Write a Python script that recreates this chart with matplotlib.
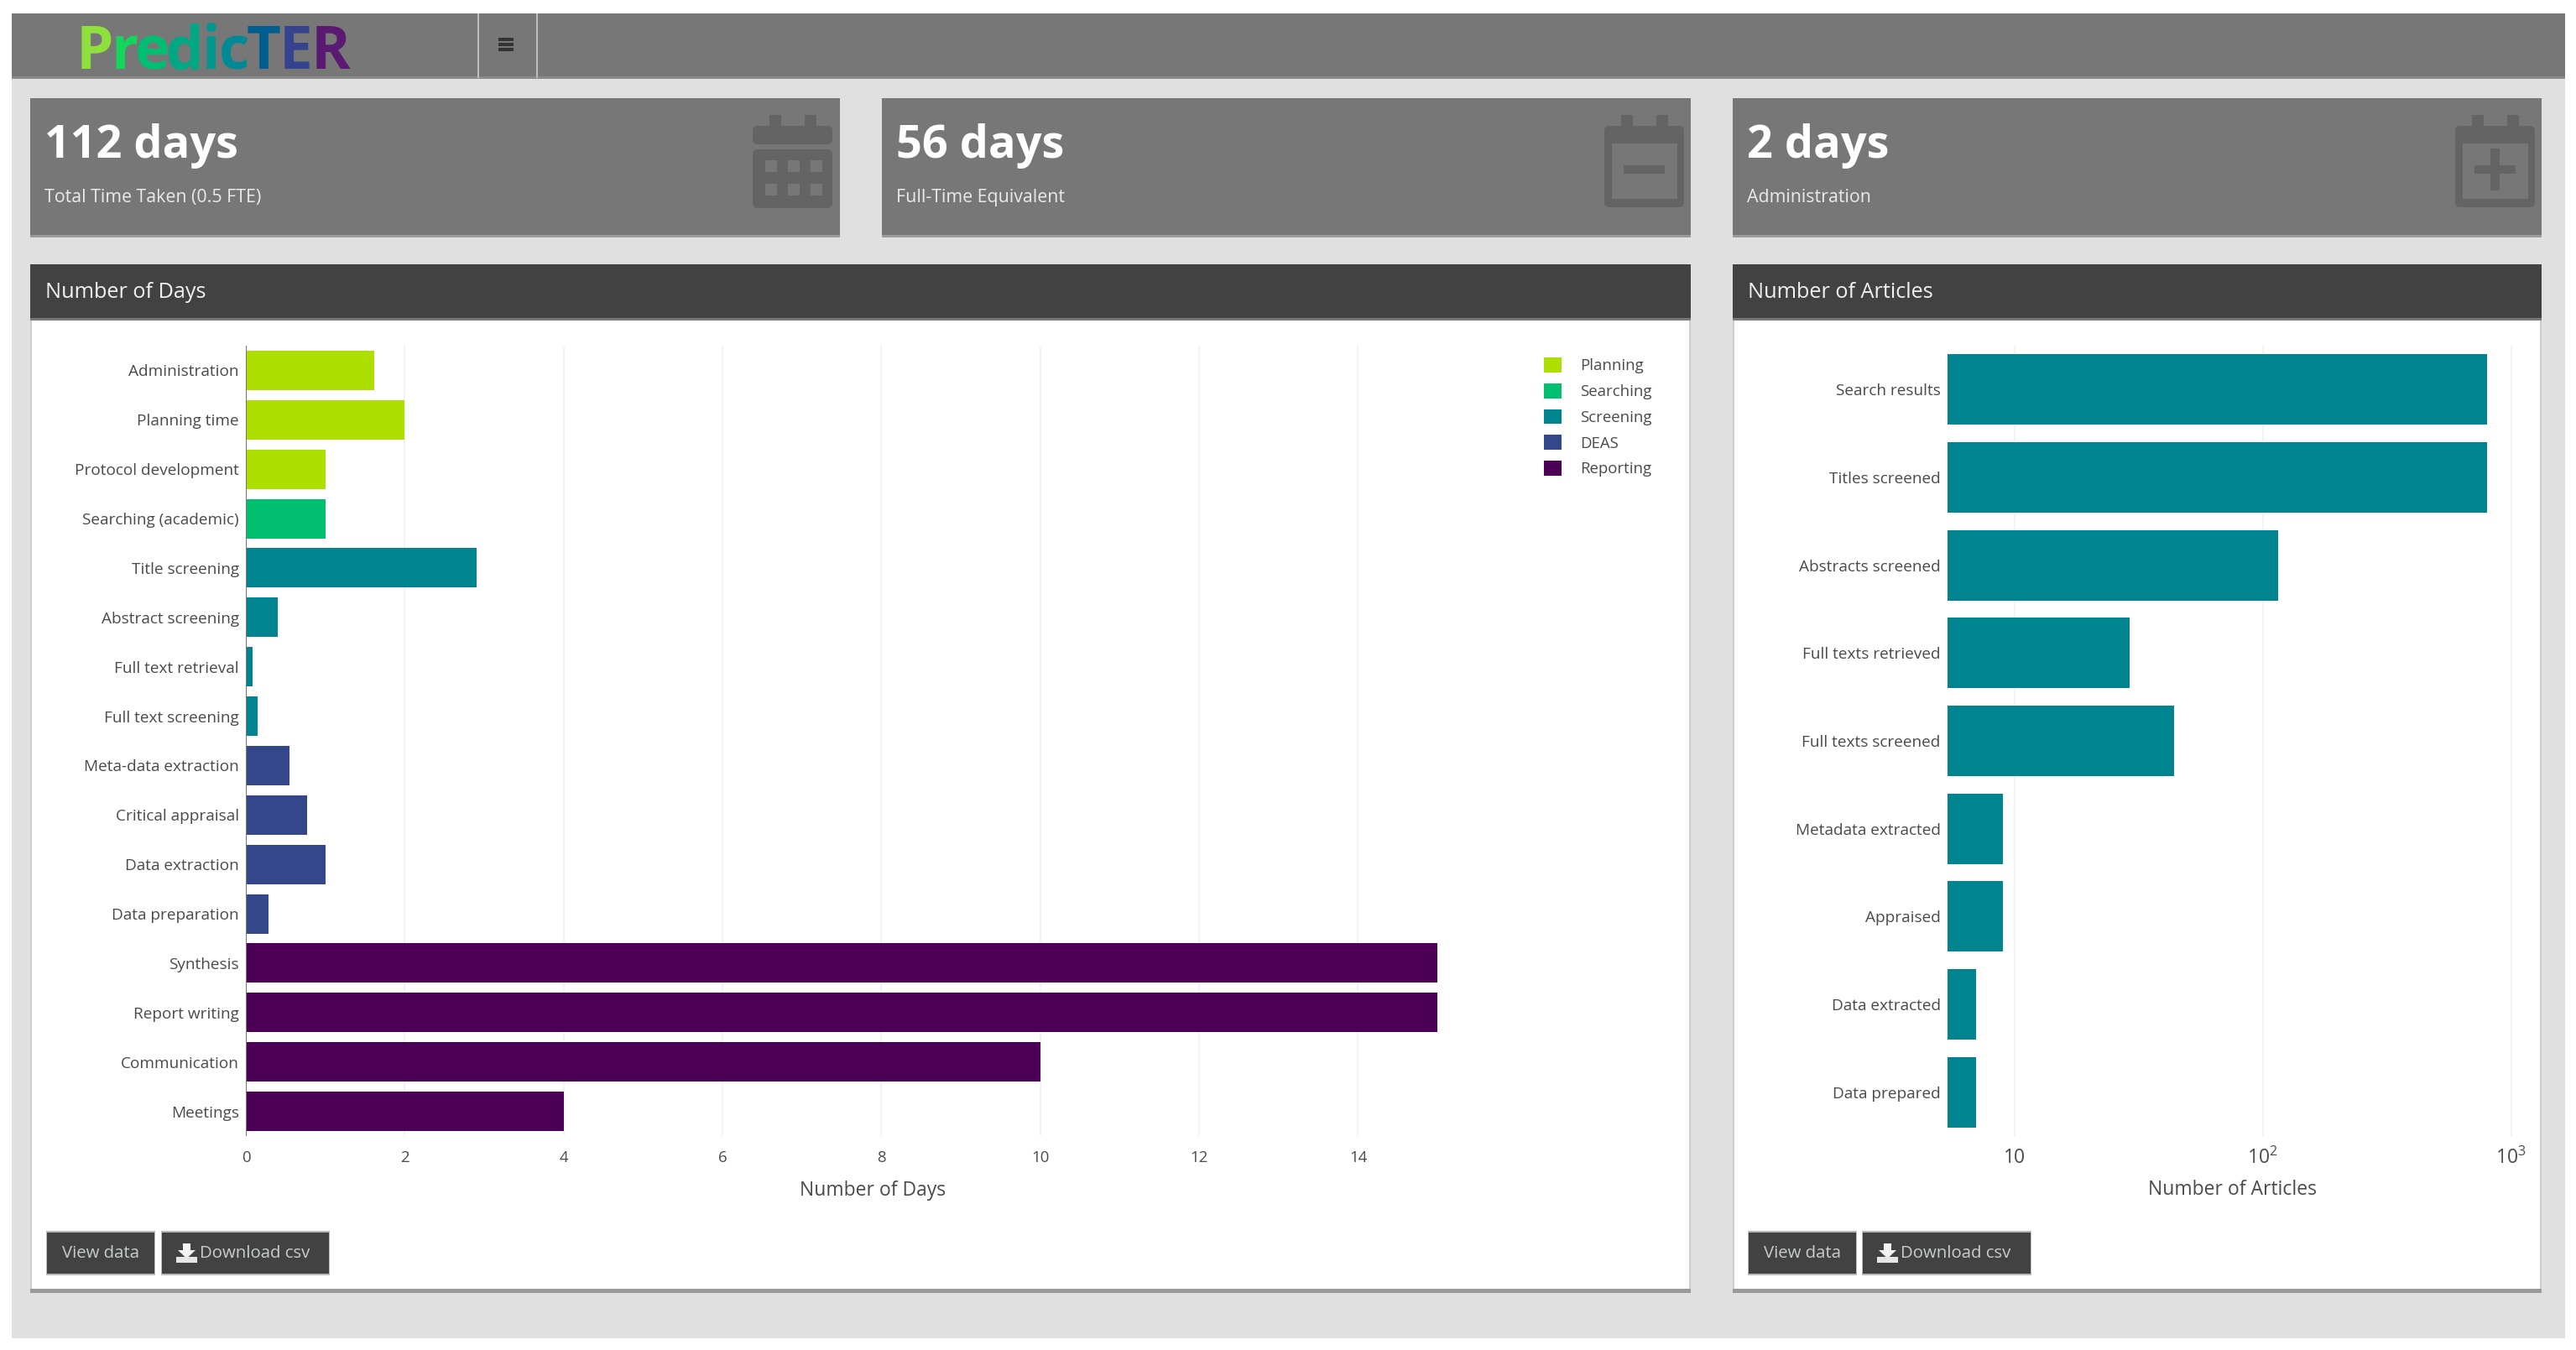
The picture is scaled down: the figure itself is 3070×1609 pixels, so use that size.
import matplotlib
matplotlib.use("Agg")
import matplotlib.pyplot as plt
from matplotlib.patches import Rectangle, FancyBboxPatch, Patch, Polygon

plt.rcParams['font.family'] = ['Open Sans', 'DejaVu Sans']
plt.rcParams['mathtext.fontset'] = 'custom'
plt.rcParams['mathtext.rm'] = 'Open Sans'
plt.rcParams['mathtext.default'] = 'regular'

W = 3070
H = 1609

# number of days chart
day_labels = ["Administration", "Planning time", "Protocol development", "Searching (academic)",
              "Title screening", "Abstract screening", "Full text retrieval", "Full text screening",
              "Meta-data extraction", "Critical appraisal", "Data extraction", "Data preparation",
              "Synthesis", "Report writing", "Communication", "Meetings"]
day_values = [1.62, 2, 1, 1, 2.9, 0.4, 0.08, 0.15, 0.55, 0.77, 1, 0.28, 15, 15, 10, 4]
day_phases = ["Planning", "Planning", "Planning", "Searching", "Screening", "Screening", "Screening",
              "Screening", "DEAS", "DEAS", "DEAS", "DEAS", "Reporting", "Reporting", "Reporting", "Reporting"]
day_ticks = [0, 2, 4, 6, 8, 10, 12, 14]

# number of articles chart
article_labels = ["Search results", "Titles screened", "Abstracts screened", "Full texts retrieved",
                  "Full texts screened", "Metadata extracted", "Appraised", "Data extracted", "Data prepared"]
article_values = [798, 798, 115, 29, 44, 9, 9, 7, 7]
article_ticks = [10, 100, 1000]
article_tick_labels = ["10", "$10^{2}$", "$10^{3}$"]

phases = ["Planning", "Searching", "Screening", "DEAS", "Reporting"]
phase_colors = ["#ADE000", "#00C070", "#008490", "#34478A", "#4B0055"]
color_of = dict(zip(phases, phase_colors))

card_titles = ["112 days", "56 days", "2 days"]
card_subs = ["Total Time Taken (0.5 FTE)", "Full-Time Equivalent", "Administration"]

logo_letters = list("PredicTER")
logo_colors = ["#8FE03C", "#14D65A", "#00BE72", "#00A884", "#00988E", "#008A96", "#005F8E", "#35428E", "#5A1A72"]
logo_pos = [91, 133, 161, 198, 241, 261, 294, 333, 371]

GREY = "#777777"
DARK = "#424242"
ICON = "#646464"
PAGE = "#E0E0E0"
TEXT = "#4A4A4A"

fig = plt.figure(figsize=(W / 100, H / 100), dpi=100, facecolor="white")

# page furniture lives in an axes measured in pixels
page = fig.add_axes([0, 0, 1, 1], zorder=0)
page.set_xlim(0, W)
page.set_ylim(H, 0)
page.axis("off")


def box(x0, y0, x1, y1, color, **kw):
    page.add_patch(Rectangle((x0, y0), x1 - x0, y1 - y0, facecolor=color, edgecolor="none", **kw))


def rounded(x0, y0, x1, y1, color, r=6):
    page.add_patch(FancyBboxPatch((x0 + r, y0 + r), x1 - x0 - 2 * r, y1 - y0 - 2 * r,
                                  boxstyle="round,pad=%d,rounding_size=%d" % (r, r),
                                  facecolor=color, edgecolor="none"))


def calendar(dx, kind):
    box(dx + 917, 137, dx + 931, 155, ICON)
    box(dx + 959, 137, dx + 973, 155, ICON)
    if kind == "grid":
        rounded(dx + 897, 150, dx + 992, 172, ICON)
        rounded(dx + 897, 178, dx + 992, 248, ICON)
        for cx in (919, 946, 973):
            for cy in (198, 226):
                box(dx + cx - 7, cy - 7, dx + cx + 7, cy + 7, GREY)
        return
    rounded(dx + 897, 150, dx + 992, 247, ICON)
    box(dx + 906, 171, dx + 984, 237, GREY)
    box(dx + 920, 197, dx + 969, 207, ICON)
    if kind == "plus":
        box(dx + 939, 177, dx + 950, 227, ICON)


def download_glyph(x, y):
    # arrow over a tray, the button icon has no font glyph here
    page.add_patch(Polygon([(x + 8, y), (x + 17, y), (x + 17, y + 8), (x + 23, y + 8), (x + 12.5, y + 18),
                            (x + 2, y + 8), (x + 8, y + 8)], facecolor="#F4F4F4", edgecolor="none"))
    box(x, y + 16, x + 25, y + 23, "#E6E6E6")


box(14, 16, 3057, 1595, PAGE)

# top bar
box(14, 16, 3057, 93, GREY)
box(14, 91, 3057, 94, "#8A8A8A")
box(569, 16, 571, 93, "#BDBDBD")
box(639, 16, 641, 93, "#BDBDBD")
for hy in (45, 51, 57):
    box(594, hy, 612, hy + 4, "#333333")

# logo, one colour per letter
for letter, col, lx in zip(logo_letters, logo_colors, logo_pos):
    page.text(lx, 82, letter, color=col, fontsize=51, fontweight="bold", ha="left", va="baseline")

# value cards
card_x = [36, 1051, 2065]
card_r = [1001, 2015, 3029]
icons = ["grid", "minus", "plus"]
for i in range(3):
    box(card_x[i], 117, card_r[i], 282, GREY)
    box(card_x[i], 280, card_r[i], 283, "#9A9A9A")
    page.text(card_x[i] + 17, 188, card_titles[i], color="white", fontsize=39, fontweight="bold", va="baseline")
    page.text(card_x[i] + 17, 241, card_subs[i], color="#EAEAEA", fontsize=15.4, va="baseline")
    calendar(card_x[i] - 36, icons[i])

# panels
panel_x = [36, 2065]
panel_r = [2015, 3029]
panel_titles = ["Number of Days", "Number of Articles"]
buttons = [[(56, 184), (193, 392)], [(2084, 2212), (2220, 2420)]]
for i in range(2):
    box(panel_x[i], 381, panel_r[i], 1537, "#CCCCCC")
    box(panel_x[i], 1536, panel_r[i], 1541, "#9A9A9A")
    box(panel_x[i] + 2, 381, panel_r[i] - 2, 1536, "white")
    box(panel_x[i], 315, panel_r[i], 381, DARK)
    box(panel_x[i], 379, panel_r[i], 382, "#777777")
    page.text(panel_x[i] + 18, 348, panel_titles[i], color="#F0F0F0", fontsize=18.2, va="center")
    (v0, v1), (d0, d1) = buttons[i]
    box(v0 - 1, 1467, v1 + 1, 1520, "#BBBBBB")
    box(d0 - 1, 1467, d1 + 1, 1520, "#BBBBBB")
    box(v0, 1469, v1, 1518, DARK)
    box(d0, 1469, d1, 1518, DARK)
    page.text((v0 + v1) / 2, 1494, "View data", color="#C8CCCC", fontsize=14.7, ha="center", va="center")
    page.text(d0 + 45, 1494, "Download csv", color="#C8CCCC", fontsize=14.7, ha="left", va="center")
    download_glyph(d0 + 17, 1482)


def chart_axes(x0, x1, y0, y1):
    ax = fig.add_axes([x0 / W, 1 - y1 / H, (x1 - x0) / W, (y1 - y0) / H], zorder=1)
    ax.patch.set_alpha(0)
    for s in ax.spines.values():
        s.set_visible(False)
    ax.grid(True, axis="x", color="#F3F3F3", linewidth=1.5)
    ax.set_axisbelow(True)
    ax.tick_params(length=0, labelcolor=TEXT)
    return ax


# left chart
ax1 = chart_axes(293, 1787, 412, 1354)
pos = list(range(len(day_labels)))
ax1.barh(pos, day_values, height=0.8, color=[color_of[p] for p in day_phases])
ax1.set_yticks(pos)
ax1.set_yticklabels(day_labels, fontsize=13.7)
ax1.set_xticks(day_ticks)
ax1.set_xticklabels([str(t) for t in day_ticks], fontsize=13.4)
ax1.set_xlim(0, 15.78)
ax1.set_ylim(len(day_labels) - 0.5, -0.5)
ax1.tick_params(axis="y", pad=6)
ax1.tick_params(axis="x", pad=12)
ax1.axvline(0, color="#777777", linewidth=1.5)
ax1.set_xlabel("Number of Days", fontsize=16.5, color=TEXT, labelpad=13)

handles = [Patch(facecolor=c, edgecolor="none", label=p) for p, c in zip(phases, phase_colors)]
fig.legend(handles=handles, loc="upper left", bbox_to_anchor=(1840 / W, 1 - 426 / H), frameon=False,
           fontsize=13.4, labelcolor=TEXT, borderpad=0, borderaxespad=0, handlelength=1.15, handleheight=1.1,
           handletextpad=1.15, labelspacing=0.62)

# right chart
ax2 = chart_axes(2321, 2999, 412, 1354)
pos2 = list(range(len(article_labels)))
ax2.barh(pos2, article_values, height=0.8, color=color_of["Screening"])
ax2.set_xscale("log")
ax2.set_xlim(5.37, 1050)
ax2.set_yticks(pos2)
ax2.set_yticklabels(article_labels, fontsize=13.7)
ax2.set_xticks(article_ticks)
ax2.set_xticklabels(article_tick_labels, fontsize=16.5)
ax2.minorticks_off()
ax2.set_ylim(len(article_labels) - 0.5, -0.5)
ax2.tick_params(axis="y", pad=6)
ax2.tick_params(axis="x", pad=10)
ax2.set_xlabel("Number of Articles", fontsize=16.5, color=TEXT, labelpad=9)

fig.savefig("out.png", dpi=100)
